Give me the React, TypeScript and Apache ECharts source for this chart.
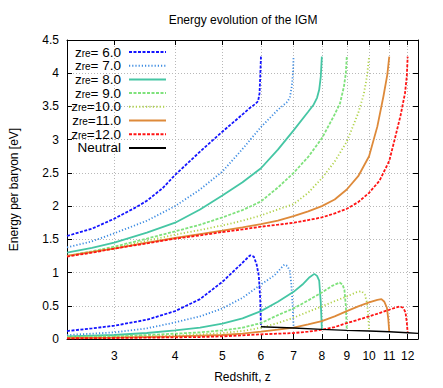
import React, { useEffect, useRef } from 'react';
import * as echarts from 'echarts';

// ---------- data ----------
const xTicks = [3, 4, 5, 6, 7, 8, 9, 10, 11, 12];
const modelNames = ['z_re= 6.0', 'z_re= 7.0', 'z_re= 8.0', 'z_re= 9.0', 'z_re=10.0', 'z_re=11.0', 'z_re=12.0'];
const neutralName = 'Neutral';

const upper6 = [[2.4,1.55],[2.7,1.66],[3,1.81],[3.3,1.97],[3.5,2.08],[3.77,2.27],[4,2.47],[4.5,2.82],[5,3.12],[5.4,3.33],[5.7,3.48],[5.85,3.54],[5.92,3.58],[5.96,3.7],[5.98,3.95],[6.0,4.25]];
const upper7 = [[2.4,1.38],[2.7,1.47],[3,1.59],[3.5,1.78],[4,2.0],[4.5,2.25],[5,2.52],[5.5,2.86],[6,3.19],[6.5,3.45],[6.8,3.57],[6.88,3.64],[6.94,3.8],[6.98,4.0],[7.0,4.25]];
const upper8 = [[2.4,1.30],[2.7,1.37],[3,1.45],[3.5,1.6],[4,1.75],[4.5,1.95],[5,2.16],[5.5,2.36],[6,2.57],[6.5,2.85],[7,3.14],[7.5,3.42],[7.7,3.53],[7.82,3.63],[7.9,3.75],[7.96,3.95],[8.0,4.25]];
const upper9 = [[2.4,1.25],[2.7,1.32],[3,1.39],[3.5,1.51],[4,1.62],[4.5,1.72],[5,1.83],[5.5,1.94],[6,2.07],[6.5,2.28],[7,2.5],[7.5,2.74],[8,3.02],[8.5,3.38],[8.72,3.55],[8.88,3.8],[8.96,4.0],[9.0,4.25]];
const upper10 = [[2.4,1.25],[2.7,1.31],[3,1.37],[3.5,1.48],[4,1.57],[4.5,1.64],[5,1.71],[5.5,1.78],[6,1.86],[6.5,1.95],[7,2.03],[7.5,2.2],[8,2.42],[8.5,2.67],[9,2.97],[9.5,3.4],[9.75,3.68],[9.9,3.95],[10.0,4.25]];
const upper11 = [[2.4,1.25],[2.7,1.31],[3,1.36],[3.5,1.45],[4,1.52],[4.5,1.58],[5,1.63],[5.5,1.68],[6,1.73],[6.5,1.78],[7,1.85],[7.5,1.92],[8,2.0],[8.5,2.1],[9,2.25],[9.5,2.45],[10,2.75],[10.4,3.2],[10.7,3.65],[10.9,3.98],[11.0,4.25]];
const upper12 = [[2.4,1.24],[2.7,1.30],[3,1.36],[3.5,1.44],[4,1.51],[4.5,1.56],[5,1.61],[5.5,1.65],[6,1.69],[6.5,1.72],[7,1.75],[7.5,1.79],[8,1.83],[8.5,1.89],[9,1.96],[9.5,2.06],[10,2.2],[10.5,2.38],[11,2.68],[11.3,3.02],[11.6,3.36],[11.85,3.7],[11.95,3.95],[12.0,4.25]];

const lower6 = [[2.4,0.12],[2.7,0.16],[3,0.2],[3.5,0.29],[4,0.42],[4.5,0.6],[5,0.86],[5.45,1.12],[5.7,1.26],[5.8,1.24],[5.88,1.12],[5.94,0.95],[5.98,0.6],[6.0,0.19]];
const lower7 = [[2.4,0.06],[2.7,0.08],[3,0.1],[3.5,0.16],[4,0.25],[4.5,0.34],[5,0.46],[5.5,0.62],[6,0.82],[6.4,0.96],[6.7,1.12],[6.8,1.1],[6.88,1.02],[6.93,0.8],[6.97,0.5],[7.0,0.17]];
const lower8 = [[2.4,0.04],[3,0.06],[3.5,0.09],[4,0.13],[4.5,0.17],[5,0.23],[5.5,0.31],[6,0.42],[6.5,0.56],[7,0.71],[7.3,0.82],[7.55,0.93],[7.72,0.98],[7.82,0.95],[7.9,0.88],[7.96,0.55],[8.0,0.15]];
const lower9 = [[2.4,0.03],[3,0.04],[3.5,0.06],[4,0.08],[4.5,0.1],[5,0.13],[5.5,0.17],[6,0.24],[6.5,0.36],[7,0.46],[7.5,0.58],[8,0.7],[8.4,0.8],[8.7,0.85],[8.82,0.82],[8.9,0.74],[8.96,0.5],[9.0,0.13]];
const lower10 = [[2.4,0.02],[3,0.03],[3.5,0.04],[4,0.05],[4.5,0.07],[5,0.09],[5.5,0.12],[6,0.17],[6.5,0.24],[7,0.32],[7.5,0.41],[8,0.49],[8.5,0.57],[9,0.64],[9.4,0.7],[9.65,0.72],[9.8,0.67],[9.9,0.55],[9.96,0.35],[10.0,0.12]];
const lower11 = [[2.4,0.015],[3,0.02],[3.5,0.03],[4,0.04],[4.5,0.05],[5,0.06],[5.5,0.08],[6,0.11],[6.5,0.14],[7,0.17],[7.5,0.22],[8,0.27],[8.5,0.34],[9,0.42],[9.5,0.49],[10,0.55],[10.4,0.59],[10.6,0.6],[10.75,0.56],[10.88,0.47],[10.95,0.3],[11.0,0.11]];
const lower12 = [[2.4,0.01],[3,0.015],[3.5,0.02],[4,0.025],[4.5,0.03],[5,0.04],[5.5,0.055],[6,0.07],[6.5,0.08],[7,0.09],[7.5,0.11],[8,0.14],[8.5,0.18],[9,0.24],[9.5,0.29],[10,0.34],[10.5,0.39],[11,0.44],[11.3,0.47],[11.55,0.49],[11.75,0.47],[11.88,0.4],[11.95,0.25],[12.0,0.095]];

const neutral = [[6,0.185],[7,0.165],[8,0.145],[9,0.13],[10,0.12],[11,0.108],[12,0.094],[12.6,0.085]];

const uppers = [upper6, upper7, upper8, upper9, upper10, upper11, upper12];
const lowers = [lower6, lower7, lower8, lower9, lower10, lower11, lower12];

// ---------- styles ----------
const FONT = 'Liberation Sans, Arial, sans-serif';
const colors = ['#1414ff', '#3f8de2', '#45c6a4', '#7fe27c', '#b0d24a', '#de8a3a', '#ff1414'];
const dashes: any[] = [[3, 1.5], [1.2, 2], 'solid', [3, 1.5], [1.2, 2.2], 'solid', [3, 1.5]];

export default function App() {
  const ref = useRef<HTMLDivElement>(null);
  useEffect(() => {
    if (!ref.current) return;
    const chart = echarts.init(ref.current, null, { renderer: 'svg' });
    const series: any[] = [];
    modelNames.forEach((name, i) => {
      [uppers[i], lowers[i]].forEach((d) => {
        series.push({
          type: 'line', name, data: d, symbol: 'none', showSymbol: false, silent: true,
          xAxisIndex: 0, yAxisIndex: 0,
          lineStyle: { color: colors[i], width: 1.8, type: dashes[i] },
          itemStyle: { color: colors[i] },
        });
      });
    });
    series.push({
      type: 'line', name: neutralName, data: neutral, symbol: 'none', showSymbol: false, silent: true,
      lineStyle: { color: '#000', width: 1.4 }, itemStyle: { color: '#000' },
    });
    const gridLine = { show: true, lineStyle: { color: '#b8b8b8', width: 1, type: [1, 2] } };
    chart.setOption({
      animation: false,
      grid: { left: 66, right: 25, top: 40, bottom: 45, containLabel: false },
      graphic: [{
        type: 'text', x: 243, y: 20,
        style: { text: 'Energy evolution of the IGM', fontFamily: FONT, fontSize: 12, fill: '#000', textAlign: 'center', textVerticalAlign: 'middle' },
      }],
      legend: {
        data: [...modelNames, neutralName],
        orient: 'vertical', align: 'right', right: 276, top: 45, padding: 0,
        itemGap: -0.3, itemWidth: 37, itemHeight: 10, selectedMode: false,
        itemStyle: { opacity: 0 },
        formatter: (n: string) => n.startsWith('z_re') ? `{a|z}{s|re}{a|${n.slice(4)}}` : `{a|${n}}`,
        textStyle: {
          fontFamily: FONT, fontSize: 13.5, color: '#000', padding: [0, 3, 0, 0],
          rich: {
            a: { fontFamily: FONT, fontSize: 13.5, lineHeight: 12, color: '#000' },
            s: { fontFamily: FONT, fontSize: 10, lineHeight: 4, verticalAlign: 'bottom', color: '#000' },
          },
        },
      },
      xAxis: [
        {
          type: 'log', logBase: 10, min: 2.4, max: 12.6, position: 'bottom',
          axisLine: { show: true, onZero: false, lineStyle: { color: '#000', width: 1 } },
          axisTick: { show: true, inside: true, length: 5, customValues: xTicks, lineStyle: { color: '#000' } },
          axisLabel: { show: true, customValues: xTicks, color: '#000', fontSize: 12, fontFamily: FONT, margin: 11 },
          splitLine: gridLine, minorTick: { show: false }, minorSplitLine: { show: false },
          name: 'Redshift, z', nameLocation: 'middle', nameGap: 32,
          nameTextStyle: { color: '#000', fontSize: 12, fontFamily: FONT },
        },
        {
          type: 'log', logBase: 10, min: 2.4, max: 12.6, position: 'top',
          axisLine: { show: true, onZero: false, lineStyle: { color: '#000', width: 1 } },
          axisTick: { show: true, inside: true, length: 5, customValues: xTicks, lineStyle: { color: '#000' } },
          axisLabel: { show: false, customValues: xTicks },
          splitLine: { show: false },
        },
      ],
      yAxis: [
        {
          type: 'value', min: 0, max: 4.5, interval: 0.5, position: 'left',
          axisLine: { show: true, onZero: false, lineStyle: { color: '#000', width: 1 } },
          axisTick: { show: true, inside: true, length: 5, lineStyle: { color: '#000' } },
          axisLabel: { color: '#000', fontSize: 12, fontFamily: FONT, margin: 8 },
          splitLine: gridLine,
          name: 'Energy per baryon [eV]', nameLocation: 'middle', nameGap: 47, nameRotate: 90,
          nameTextStyle: { color: '#000', fontSize: 12, fontFamily: FONT },
        },
        {
          type: 'value', min: 0, max: 4.5, interval: 0.5, position: 'right',
          axisLine: { show: true, onZero: false, lineStyle: { color: '#000', width: 1 } },
          axisTick: { show: true, inside: true, length: 5, lineStyle: { color: '#000' } },
          axisLabel: { show: false }, splitLine: { show: false },
        },
      ],
      series,
    });
    return () => chart.dispose();
  }, []);
  return <div ref={ref} style={{ width: 443, height: 388, position: 'absolute', left: 0, top: 0 }} />;
}
